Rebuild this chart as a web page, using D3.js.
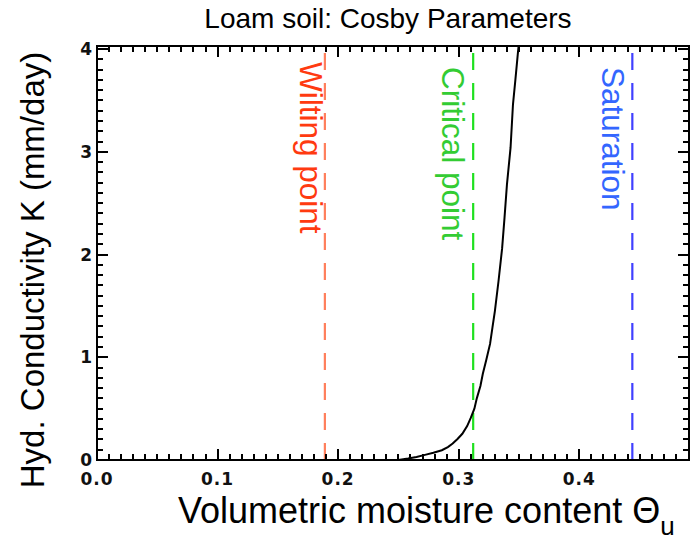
<!DOCTYPE html>
<html><head><meta charset="utf-8">
<script src="https://cdn.jsdelivr.net/npm/d3@7"></script>
<style>body{margin:0;background:#fff}svg{display:block}</style>
</head><body>
<svg id="c" width="698" height="540"></svg>
<script>
// ---- data ----
const titleText = "Loam soil: Cosby Parameters";
const xTicks = [0.0, 0.1, 0.2, 0.3, 0.4];
const xTickLabels = ["0.0", "0.1", "0.2", "0.3", "0.4"];
const yTicks = [0, 1, 2, 3, 4];
const yTickLabels = ["0", "1", "2", "3", "4"];
const curveTheta = [0.250, 0.258, 0.265, 0.272, 0.279, 0.286, 0.291, 0.295, 0.299, 0.303, 0.307, 0.310, 0.313, 0.315, 0.318, 0.320, 0.323, 0.326, 0.328, 0.330, 0.333, 0.336, 0.338, 0.340, 0.343, 0.345, 0.347, 0.349, 0.352];
const curveK     = [0.000, 0.015, 0.030, 0.050, 0.070, 0.095, 0.125, 0.160, 0.205, 0.255, 0.330, 0.410, 0.500, 0.600, 0.720, 0.840, 0.980, 1.130, 1.290, 1.450, 1.740, 2.060, 2.360, 2.680, 3.040, 3.460, 3.700, 3.950, 4.300];
const markerNames  = ["Wilting point", "Critical point", "Saturation"];
const markerTheta  = [0.189, 0.312, 0.444];
const markerLine   = ["#ff7f5c", "#1fe01f", "#4040ff"];
const markerText   = ["#ff3a10", "#33cc33", "#3366ff"];

// ---- layout ----
const svg = d3.select("#c");
const L = 97, R = 689, T = 46, B = 460;
const x = d3.scaleLinear().domain([0, 0.491]).range([L, R]);
const y = d3.scaleLinear().domain([0, 4.03]).range([B, T]);

svg.append("defs").append("clipPath").attr("id", "clip")
  .append("rect").attr("x", L).attr("y", T).attr("width", R - L).attr("height", B - T);

// title
svg.append("text").attr("x", 388).attr("y", 28).attr("text-anchor", "middle")
  .attr("font-family", "Liberation Sans, Arial, sans-serif").attr("font-size", 28)
  .text(titleText);

// marker lines
markerTheta.forEach((t, i) => {
  svg.append("line").attr("x1", x(t)).attr("x2", x(t)).attr("y1", B).attr("y2", T)
    .attr("stroke", markerLine[i]).attr("stroke-width", 2.2)
    .attr("stroke-dasharray", "17,13");
});

// curve
svg.append("path").datum(curveTheta.map((t, i) => [t, curveK[i]]))
  .attr("clip-path", "url(#clip)")
  .attr("fill", "none").attr("stroke", "#000").attr("stroke-width", 2)
  .attr("d", d3.line().x(d => x(d[0])).y(d => y(d[1])));

// marker labels (rotated, reading downward)
const labelBase = [300, 442, 602];
const labelTop = [62, 67, 67];
markerNames.forEach((n, i) => {
  svg.append("text").attr("transform", `translate(${labelBase[i]},${labelTop[i]}) rotate(90)`)
    .attr("font-family", "Liberation Sans, Arial, sans-serif").attr("font-size", 31.5)
    .attr("fill", markerText[i]).text(n);
});

// axes: IDL-style box with inward ticks on all four sides
const minorX = d3.range(0, 49).map(i => i / 100);
const minorY = d3.range(0, 41).map(i => i / 10);
const tickLen = 11, minorLen = 6;
const ticks = svg.append("g").attr("stroke", "#000").attr("stroke-width", 2);
function addX(vals, len) {
  ticks.append("g").selectAll("line").data(vals).join("line")
    .attr("x1", d => Math.round(x(d))).attr("x2", d => Math.round(x(d)))
    .attr("y1", B).attr("y2", B - len);
  ticks.append("g").selectAll("line").data(vals).join("line")
    .attr("x1", d => Math.round(x(d))).attr("x2", d => Math.round(x(d)))
    .attr("y1", T).attr("y2", T + len);
}
function addY(vals, len) {
  ticks.append("g").selectAll("line").data(vals).join("line")
    .attr("y1", d => Math.round(y(d))).attr("y2", d => Math.round(y(d)))
    .attr("x1", L).attr("x2", L + len);
  ticks.append("g").selectAll("line").data(vals).join("line")
    .attr("y1", d => Math.round(y(d))).attr("y2", d => Math.round(y(d)))
    .attr("x1", R).attr("x2", R - len);
}
addX(minorX, minorLen); addX(xTicks, tickLen);
addY(minorY, minorLen); addY(yTicks, tickLen);

svg.append("rect").attr("x", L).attr("y", T).attr("width", R - L).attr("height", B - T)
  .attr("fill", "none").attr("stroke", "#000").attr("stroke-width", 2);

// tick labels
svg.append("g").selectAll("text").data(xTicks).join("text")
  .attr("x", d => x(d)).attr("y", 485).attr("text-anchor", "middle")
  .attr("font-family", "DejaVu Sans, sans-serif").attr("font-weight", "bold")
  .attr("font-size", 17).attr("letter-spacing", 1).attr("fill", "#111")
  .text((d, i) => xTickLabels[i]);
svg.append("g").selectAll("text").data(yTicks).join("text")
  .attr("x", L - 5).attr("y", d => y(d)).attr("dy", "0.36em").attr("text-anchor", "end")
  .attr("font-family", "DejaVu Sans, sans-serif").attr("font-weight", "bold")
  .attr("font-size", 17).attr("fill", "#111")
  .text((d, i) => yTickLabels[i]);

// axis titles
svg.append("text").attr("transform", "translate(44,270) rotate(-90)").attr("text-anchor", "middle")
  .attr("font-family", "Liberation Sans, Arial, sans-serif").attr("font-size", 33)
  .text("Hyd. Conductivity K (mm/day)");
const xl = svg.append("text").attr("x", 178).attr("y", 523)
  .attr("font-family", "Liberation Sans, Arial, sans-serif").attr("font-size", 36);
xl.append("tspan").text("Volumetric moisture content \u0398");
xl.append("tspan").attr("font-size", 26).attr("dy", 12).text("u");
</script>
</body></html>
